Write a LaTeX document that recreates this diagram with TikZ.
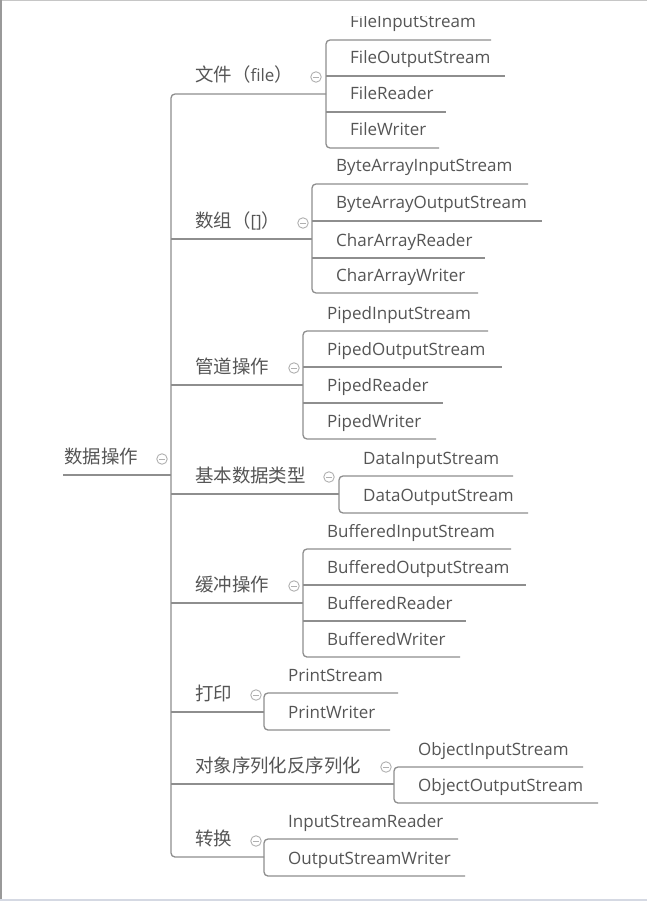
\documentclass[tikz,border=0pt]{standalone}
\usepackage{fontspec}
\setmainfont{Open Sans}
\newfontfamily\cjk{Noto Sans CJK SC}[Scale=1.085]
\definecolor{txt}{HTML}{555555}
\definecolor{ln}{HTML}{8E8E8E}
\definecolor{cg}{HTML}{B0B0B0}
\definecolor{band}{HTML}{D5D9E3}
\tikzset{
  lbl/.style={anchor=base west, inner sep=0pt, text=txt, font=\fontsize{17}{19}\selectfont},
  conn/.style={draw=ln, line width=1.3pt},
  brk/.style={conn, rounded corners=4pt},
  minus/.style={circle, draw=cg, line width=0.9pt, minimum size=10.5pt, inner sep=0pt,
    path picture={\draw[cg, line width=0.9pt] ([xshift=-2.8pt]path picture bounding box.center) -- ([xshift=2.8pt]path picture bounding box.center);}},
}
% name, bracket x, underline y, right x, text
\newcommand\mmitem[5]{%
  \coordinate (#1-l) at (#2,-#3);
  \coordinate (#1-r) at (#4,-#3);
  \node[lbl] (#1) at (#2+24,-#3+12) {#5};}
\newcommand\mmminus[3]{\node[minus] (#1) at (#2,-#3) {};}
\begin{document}
\begin{tikzpicture}[x=1pt,y=1pt]
\useasboundingbox (0,0) rectangle (647,-901);
\fill[white] (0,0) rectangle (647,-901);
% frame
\draw[gray!45, line width=1.5pt] (0,-0.75) -- (647,-0.75);
\draw[gray!80, line width=1.5pt] (0.75,0) -- (0.75,-901);
\fill[band] (0,-898.5) rectangle (647,-901);
% root
\coordinate (root-l) at (63,-475);
\coordinate (root-r) at (171,-475);
\node[lbl] (root) at (64,-463) {\cjk 数据操作};
\mmminus{mroot}{162}{459}
\draw[conn] (root-l) -- (root-r);
% level 1
\mmitem{A}{171}{94}{326}{{\cjk 文件（}file{\cjk ）}}
\mmitem{B}{171}{239}{312}{{\cjk 数组（}[]{\cjk ）}}
\mmitem{C}{171}{385}{303}{\cjk 管道操作}
\mmitem{D}{171}{494}{339}{\cjk 基本数据类型}
\mmitem{E}{171}{603}{303}{\cjk 缓冲操作}
\mmitem{F}{171}{712}{264}{\cjk 打印}
\mmitem{G}{171}{784}{394}{\cjk 对象序列化反序列化}
\mmitem{H}{171}{857}{264}{\cjk 转换}
\mmminus{mA}{316}{77}
\mmminus{mB}{303}{223}
\mmminus{mC}{294}{368}
\mmminus{mD}{329}{477}
\mmminus{mE}{294}{586}
\mmminus{mF}{256}{695}
\mmminus{mG}{386}{767}
\mmminus{mH}{256}{841}
\draw[brk] (A-r) -- (A-l) -- (H-l) -- (H-r);
\foreach \n in {B,C,D,E,F,G} {\draw[conn] (\n-l) -- (\n-r);}
% leaves A
\begin{scope}
\clip (0,-17) rectangle (647,-60);
\mmitem{A1}{326}{40}{491}{FileInputStream}
\end{scope}
\mmitem{A2}{326}{76}{505}{FileOutputStream}
\mmitem{A3}{326}{112}{446}{FileReader}
\mmitem{A4}{326}{148}{439}{FileWriter}
\draw[brk] (A1-r) -- (A1-l) -- (A4-l) -- (A4-r);
\draw[conn] (A2-l) -- (A2-r);
\draw[conn] (A3-l) -- (A3-r);
% leaves B
\mmitem{B1}{312}{184}{528}{ByteArrayInputStream}
\mmitem{B2}{312}{221}{542}{ByteArrayOutputStream}
\mmitem{B3}{312}{258}{485}{CharArrayReader}
\mmitem{B4}{312}{293}{478}{CharArrayWriter}
\draw[brk] (B1-r) -- (B1-l) -- (B4-l) -- (B4-r);
\draw[conn] (B2-l) -- (B2-r);
\draw[conn] (B3-l) -- (B3-r);
% leaves C
\mmitem{C1}{303}{331}{488}{PipedInputStream}
\mmitem{C2}{303}{367}{502}{PipedOutputStream}
\mmitem{C3}{303}{403}{443}{PipedReader}
\mmitem{C4}{303}{439}{436}{PipedWriter}
\draw[brk] (C1-r) -- (C1-l) -- (C4-l) -- (C4-r);
\draw[conn] (C2-l) -- (C2-r);
\draw[conn] (C3-l) -- (C3-r);
% leaves D
\mmitem{D1}{339}{476}{513}{DataInputStream}
\mmitem{D2}{339}{513}{528}{DataOutputStream}
\draw[brk] (D1-r) -- (D1-l) -- (D2-l) -- (D2-r);
% leaves E
\mmitem{E1}{303}{549}{511}{BufferedInputStream}
\mmitem{E2}{303}{585}{526}{BufferedOutputStream}
\mmitem{E3}{303}{621}{466}{BufferedReader}
\mmitem{E4}{303}{657}{460}{BufferedWriter}
\draw[brk] (E1-r) -- (E1-l) -- (E4-l) -- (E4-r);
\draw[conn] (E2-l) -- (E2-r);
\draw[conn] (E3-l) -- (E3-r);
% leaves F
\mmitem{F1}{264}{693}{398}{PrintStream}
\mmitem{F2}{264}{730}{390}{PrintWriter}
\draw[brk] (F1-r) -- (F1-l) -- (F2-l) -- (F2-r);
% leaves G
\mmitem{G1}{394}{767}{583}{ObjectInputStream}
\mmitem{G2}{394}{803}{598}{ObjectOutputStream}
\draw[brk] (G1-r) -- (G1-l) -- (G2-l) -- (G2-r);
% leaves H
\mmitem{H1}{264}{839}{458}{InputStreamReader}
\mmitem{H2}{264}{876}{465}{OutputStreamWriter}
\draw[brk] (H1-r) -- (H1-l) -- (H2-l) -- (H2-r);
\end{tikzpicture}
\end{document}
